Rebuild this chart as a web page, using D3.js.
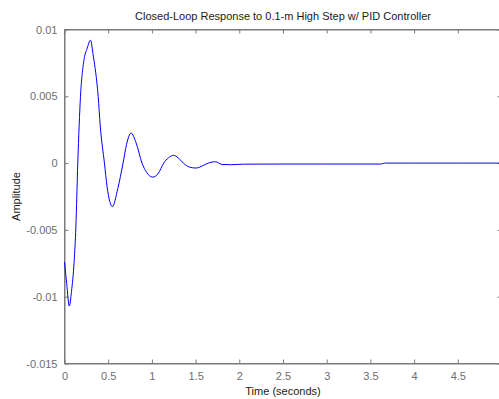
<!DOCTYPE html>
<html>
<head>
<meta charset="utf-8">
<script src="https://cdn.jsdelivr.net/npm/d3@7"></script>
<style>
  html, body { margin: 0; padding: 0; background: #fff; }
  svg { display: block; }
  text { font-family: "Liberation Sans", Arial, sans-serif; }
</style>
</head>
<body>
<svg id="chart" width="499" height="399"></svg>
<script>
// ---- data ----
const timeValues = [0, 0.025, 0.055, 0.08, 0.11, 0.13, 0.152, 0.183, 0.22, 0.26, 0.297, 0.33, 0.385, 0.41, 0.457, 0.488, 0.548, 0.61, 0.67, 0.71, 0.762, 0.82, 0.887, 0.94, 1.01, 1.07, 1.135, 1.19, 1.25, 1.30, 1.36, 1.43, 1.505, 1.58, 1.66, 1.73, 1.80, 1.90, 2.05, 2.5, 3.0, 3.62, 3.66, 4.0, 4.5, 5.0];
const amplitudeValues = [-0.0074, -0.0090, -0.0107, -0.0096, -0.0074, -0.0048, 0.0, 0.005, 0.0076, 0.0086, 0.0092, 0.0080, 0.005, 0.0027, 0.0, -0.0018, -0.00325, -0.0019, 0.0, 0.0014, 0.00225, 0.0015, 0.0, -0.0007, -0.00105, -0.0008, 0.0, 0.0004, 0.00058, 0.0004, 0.0, -0.0003, -0.00037, -0.0002, 0.00004, 0.0001, -0.0001, -0.00012, -0.00008, -0.00007, -0.00007, -0.00007, 0.0, 0.0, 0.0, 0.0];
const xTickValues = [0, 0.5, 1, 1.5, 2, 2.5, 3, 3.5, 4, 4.5];
const xTickLabels = ["0", "0.5", "1", "1.5", "2", "2.5", "3", "3.5", "4", "4.5"];
const yTickValues = [0.01, 0.005, 0, -0.005, -0.01, -0.015];
const yTickLabels = ["0.01", "0.005", "0", "-0.005", "-0.01", "-0.015"];
const titleText = "Closed-Loop Response to 0.1-m High Step w/ PID Controller";
const xLabelText = "Time (seconds)";
const yLabelText = "Amplitude";

// ---- layout ----
const svg = d3.select("#chart");
const mLeft = 64.5, mRight = 501.5, mTop = 29.5, mBottom = 363.5;
const x = d3.scaleLinear().domain([0, 5]).range([mLeft, mRight]);
const y = d3.scaleLinear().domain([-0.015, 0.01]).range([mBottom, mTop]);
const axisColor = "#7a7a7a";
const labelColor = "#6e6e6e";

const data = timeValues.map((t, i) => ({ t, v: amplitudeValues[i] }));

// box
svg.append("rect")
  .attr("x", mLeft).attr("y", mTop)
  .attr("width", mRight - mLeft).attr("height", mBottom - mTop)
  .attr("fill", "none").attr("stroke", axisColor).attr("stroke-width", 1);

// bottom axis
const xAxis = d3.axisBottom(x).tickValues(xTickValues)
  .tickFormat((d, i) => xTickLabels[i]).tickSizeInner(-4).tickSizeOuter(0).tickPadding(9);
const gx = svg.append("g").attr("transform", `translate(0,${mBottom})`).call(xAxis);
// top axis (ticks only)
const gxt = svg.append("g").attr("transform", `translate(0,${mTop})`)
  .call(d3.axisTop(x).tickValues(xTickValues).tickFormat("").tickSizeInner(-4).tickSizeOuter(0));
// left axis
const yAxis = d3.axisLeft(y).tickValues(yTickValues)
  .tickFormat((d, i) => yTickLabels[i]).tickSizeInner(-4).tickSizeOuter(0).tickPadding(7);
const gy = svg.append("g").attr("transform", `translate(${mLeft},0)`).call(yAxis);
// right axis (ticks only)
const gyr = svg.append("g").attr("transform", `translate(${mRight},0)`)
  .call(d3.axisRight(y).tickValues(yTickValues).tickFormat("").tickSizeInner(-4).tickSizeOuter(0));

[gx, gxt, gy, gyr].forEach(g => {
  g.select(".domain").attr("stroke", axisColor);
  g.selectAll(".tick line").attr("stroke", axisColor);
  g.selectAll(".tick text").attr("fill", labelColor)
    .style("font-size", "11px").style("font-family", "Liberation Sans, Arial, sans-serif");
});

// curve
const line = d3.line()
  .x(d => x(d.t)).y(d => y(d.v))
  .curve(d3.curveMonotoneX);
svg.append("path")
  .datum(data)
  .attr("d", line)
  .attr("fill", "none")
  .attr("stroke", "#0000ff")
  .attr("stroke-width", 1);

// title and labels
svg.append("text")
  .attr("x", (mLeft + mRight) / 2).attr("y", 19.5)
  .attr("text-anchor", "middle")
  .attr("fill", "#1a1a1a")
  .style("font-size", "11px")
  .text(titleText);

svg.append("text")
  .attr("x", (mLeft + mRight) / 2).attr("y", 395)
  .attr("text-anchor", "middle")
  .attr("fill", "#1a1a1a")
  .style("font-size", "11px")
  .text(xLabelText);

svg.append("text")
  .attr("transform", `translate(20,${(mTop + mBottom) / 2}) rotate(-90)`)
  .attr("text-anchor", "middle")
  .attr("fill", "#1a1a1a")
  .style("font-size", "11px")
  .text(yLabelText);
</script>
</body>
</html>
